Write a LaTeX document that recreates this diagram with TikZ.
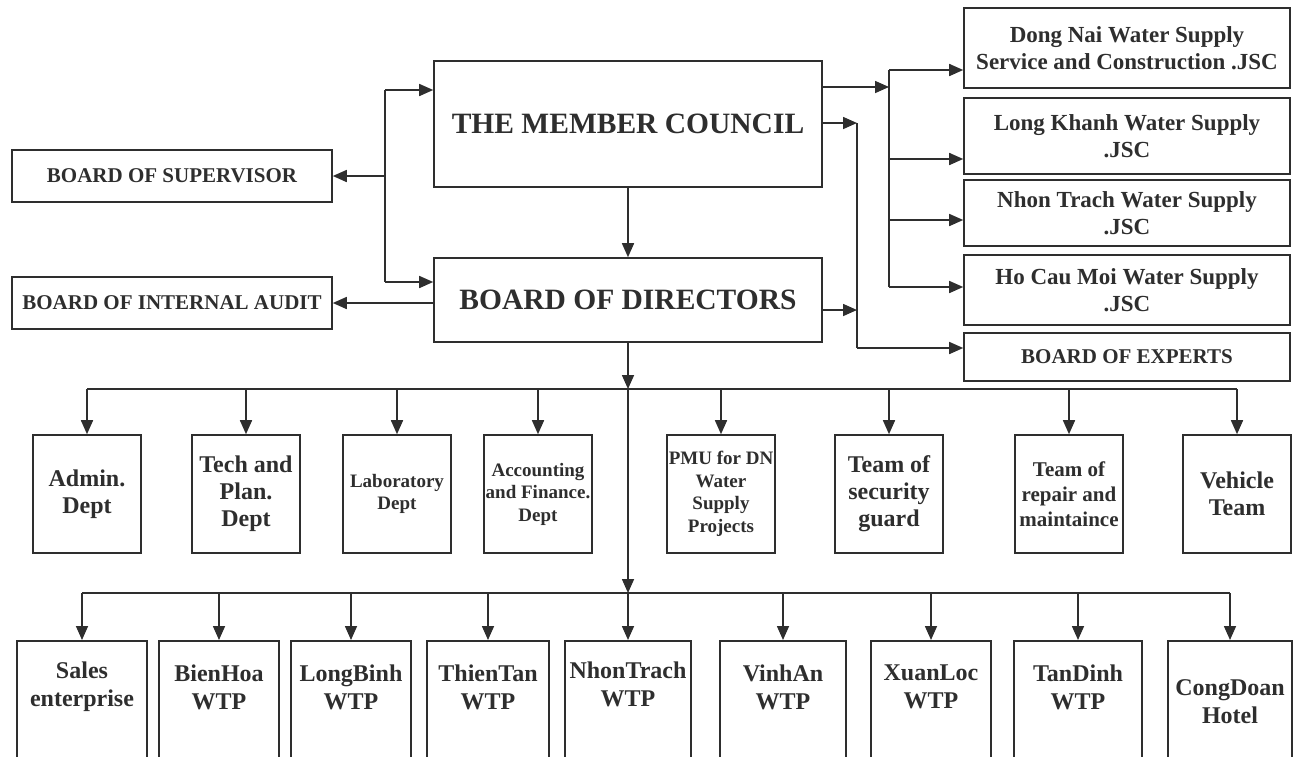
\documentclass[tikz,border=0pt]{standalone}
\usepackage{fontspec}
\setmainfont{Liberation Serif}
\usetikzlibrary{arrows.meta}

\definecolor{ink}{HTML}{2E2E2E}
\newcommand{\sz}[2]{\fontsize{#1}{#2}\selectfont}

\tikzset{
	box/.style={draw=ink, line width=1.6pt, align=center, inner xsep=1pt, inner ysep=1pt, text=ink, font=\bfseries},
	headbox/.style={box, minimum width=388pt, font=\bfseries\sz{29.5}{34}},
	boardbox/.style={box, minimum width=320pt, font=\bfseries\sz{21}{25}},
	jscbox/.style={box, minimum width=326pt, font=\bfseries\sz{23}{27}},
	deptbox/.style={box, minimum width=108pt, minimum height=118pt, font=\bfseries\sz{24}{27}},
	smalldept/.style={deptbox, font=\bfseries\sz{19}{22.5}},
	wtpbox/.style={box, anchor=north, minimum height=130pt},
	wtptext/.style={align=center, text=ink, inner sep=0pt, font=\bfseries\sz{24}{28}},
	wire/.style={draw=ink, line width=1.6pt},
	conn/.style={wire, -{Triangle[length=14pt,width=12pt]}},
}

\begin{document}
\begin{tikzpicture}[x=1pt,y=-1pt]
	\useasboundingbox (0,0) rectangle (1296,756);
	\clip (0,0) rectangle (1296,756);
	\fill[white] (0,0) rectangle (1296,756);

	% council and boards
	\node[headbox, minimum height=126pt] (council) at (628,124) {THE MEMBER COUNCIL};
	\node[headbox, minimum height=84pt] (directors) at (628,300) {BOARD OF DIRECTORS};
	\node[boardbox, minimum height=52pt] (supervisor) at (172,176) {BOARD OF SUPERVISOR};
	\node[boardbox, minimum height=52pt] (audit) at (172,303) {BOARD OF INTERNAL AUDIT};

	% member companies
	\node[jscbox, minimum height=80pt] (dongnai) at (1127,48) {Dong Nai Water Supply\\Service and Construction .JSC};
	\node[jscbox, minimum height=76pt] (longkhanh) at (1127,136) {Long Khanh Water Supply\\.JSC};
	\node[jscbox, minimum height=66pt] (nhontrachjsc) at (1127,213) {Nhon Trach Water Supply\\.JSC};
	\node[jscbox, minimum height=70pt] (hocaumoi) at (1127,290) {Ho Cau Moi Water Supply\\.JSC};
	\node[boardbox, minimum width=326pt, minimum height=48pt] (experts) at (1127,357) {BOARD OF EXPERTS};

	% departments
	\node[deptbox] (admin) at (87,494) {Admin.\\Dept};
	\node[deptbox] (tech) at (246,494) {Tech and\\Plan.\\Dept};
	\node[smalldept] (lab) at (397,494) {Laboratory\\Dept};
	\node[smalldept] (acc) at (538,494) {Accounting\\and Finance.\\Dept};
	\node[smalldept] (pmu) at (721,494) {PMU for DN\\Water\\Supply\\Projects};
	\node[deptbox] (security) at (889,494) {Team of\\security\\guard};
	\node[deptbox, font=\bfseries\sz{21}{25}] (repair) at (1069,494) {Team of\\repair and\\maintaince};
	\node[deptbox] (vehicle) at (1237,494) {Vehicle\\Team};

	% plants, boxes run past the lower edge
	\node[wtpbox, minimum width=130pt] (sales) at (82,640) {};
	\node[wtpbox, minimum width=120pt] (bienhoa) at (219,640) {};
	\node[wtpbox, minimum width=120pt] (longbinh) at (351,640) {};
	\node[wtpbox, minimum width=122pt] (thientan) at (488,640) {};
	\node[wtpbox, minimum width=126pt] (nhontrach) at (628,640) {};
	\node[wtpbox, minimum width=126pt] (vinhan) at (783,640) {};
	\node[wtpbox, minimum width=120pt] (xuanloc) at (931,640) {};
	\node[wtpbox, minimum width=128pt] (tandinh) at (1078,640) {};
	\node[wtpbox, minimum width=124pt] (congdoan) at (1230,640) {};
	\node[wtptext] (sales-txt) at (82,687) {Sales\\enterprise};
	\node[wtptext] (bienhoa-txt) at (219,687) {BienHoa\\WTP};
	\node[wtptext] (longbinh-txt) at (351,687) {LongBinh\\WTP};
	\node[wtptext] (thientan-txt) at (488,687) {ThienTan\\WTP};
	\node[wtptext] (nhontrach-txt) at (628,684) {NhonTrach\\WTP};
	\node[wtptext] (vinhan-txt) at (783,687) {VinhAn\\WTP};
	\node[wtptext] (xuanloc-txt) at (931,687) {XuanLoc\\WTP};
	\node[wtptext] (tandinh-txt) at (1078,687) {TanDinh\\WTP};
	\node[wtptext] (congdoan-txt) at (1230,702) {CongDoan\\Hotel};

	% left spine
	\coordinate (lt) at (385,90);
	\coordinate (lb) at (385,282);
	\draw[wire] (lt) -- (lb);
	\draw[conn] (lt) -- (lt -| council.west);
	\draw[conn] (lb) -- (lb -| directors.west);
	\draw[conn] (lt |- supervisor.east) -- (supervisor.east);
	\draw[conn] (directors.west |- audit.east) -- (audit.east);

	% right spines
	\coordinate (rin) at (889,87);
	\coordinate (rt) at (889,70);
	\coordinate (r2) at (889,159);
	\coordinate (r3) at (889,220);
	\coordinate (rb) at (889,287);
	\draw[conn] (rin -| council.east) -- (rin);
	\draw[wire] (rt) -- (rb);
	\draw[conn] (rt) -- (rt -| dongnai.west);
	\draw[conn] (r2) -- (r2 -| longkhanh.west);
	\draw[conn] (r3) -- (r3 -| nhontrachjsc.west);
	\draw[conn] (rb) -- (rb -| hocaumoi.west);

	\coordinate (st) at (857,123);
	\coordinate (sm) at (857,310);
	\coordinate (sb) at (857,348);
	\draw[conn] (st -| council.east) -- (st);
	\draw[conn] (sm -| directors.east) -- (sm);
	\draw[wire] (st) -- (sb);
	\draw[conn] (sb) -- (sb -| experts.west);

	% downwards
	\draw[conn] (council) -- (directors);
	\coordinate (hubA) at (628,389);
	\coordinate (hubB) at (628,593);
	\draw[conn] (directors) -- (hubA);
	\draw[conn] (hubA) -- (hubB);
	\draw[conn] (hubB) -- (nhontrach);

	\draw[wire] (admin |- hubA) -- (vehicle |- hubA);
	\draw[conn] (admin |- hubA) -- (admin);
	\draw[conn] (tech |- hubA) -- (tech);
	\draw[conn] (lab |- hubA) -- (lab);
	\draw[conn] (acc |- hubA) -- (acc);
	\draw[conn] (pmu |- hubA) -- (pmu);
	\draw[conn] (security |- hubA) -- (security);
	\draw[conn] (repair |- hubA) -- (repair);
	\draw[conn] (vehicle |- hubA) -- (vehicle);

	\draw[wire] (sales |- hubB) -- (congdoan |- hubB);
	\draw[conn] (sales |- hubB) -- (sales);
	\draw[conn] (bienhoa |- hubB) -- (bienhoa);
	\draw[conn] (longbinh |- hubB) -- (longbinh);
	\draw[conn] (thientan |- hubB) -- (thientan);
	\draw[conn] (vinhan |- hubB) -- (vinhan);
	\draw[conn] (xuanloc |- hubB) -- (xuanloc);
	\draw[conn] (tandinh |- hubB) -- (tandinh);
	\draw[conn] (congdoan |- hubB) -- (congdoan);
\end{tikzpicture}
\end{document}
